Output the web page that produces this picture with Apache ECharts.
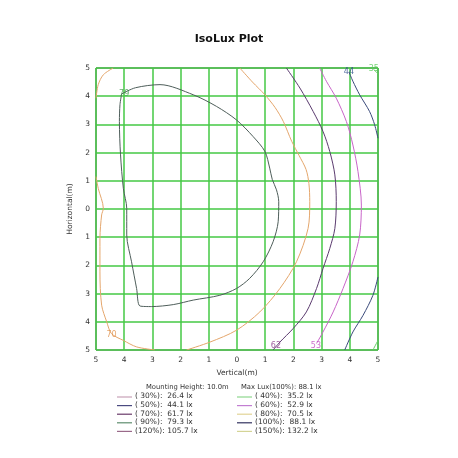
<!DOCTYPE html>
<html>
<head>
<meta charset="utf-8">
<script src="https://cdn.jsdelivr.net/npm/echarts@6/dist/echarts.min.js"></script>
<style>
  html, body { margin: 0; padding: 0; background: #fff; }
  #chart { width: 458px; height: 458px; }
</style>
</head>
<body>
<div id="chart"></div>
<script>
// tick values (labels shown as distance from centre)
const ticks = [-5, -4, -3, -2, -1, 0, 1, 2, 3, 4, 5];

// contour lines [vertical, horizontal]
const c79 = [[-4.09, 4.08], [-3.6, 4.3], [-2.73, 4.41], [-1.55, 4.05], [-0.73, 3.64], [-0.02, 3.16], [0.57, 2.57], [0.99, 2.04], [1.16, 1.45], [1.25, 1.05], [1.40, 0.68], [1.48, 0.26], [1.46, -0.45], [1.28, -1.16], [0.93, -1.87], [0.45, -2.46], [-0.02, -2.82], [-0.61, -3.06], [-1.55, -3.23], [-2.26, -3.39], [-3.03, -3.46], [-3.44, -3.44], [-3.56, -2.82], [-3.74, -1.87], [-3.91, -0.92], [-3.91, 0.02], [-4.03, 0.73], [-4.13, 1.92], [-4.17, 3.10], [-4.15, 3.70], [-4.09, 4.08]];
const c70a = [[-4.39, 5], [-4.74, 4.76], [-4.92, 4.41], [-5, 3.93]];
const c70b = [[-5, 1.15], [-4.92, 0.73], [-4.74, 0.02], [-4.80, -0.21], [-4.86, -1.04], [-4.86, -2.23], [-4.80, -3.41], [-4.62, -4.0], [-4.45, -4.42], [-4.03, -4.66], [-3.56, -4.89], [-2.91, -5]];
const c70c = [[-1.79, -5], [-0.96, -4.72], [-0.02, -4.30], [0.81, -3.65], [1.52, -2.82], [2.11, -1.87], [2.52, -0.69], [2.58, 0.26], [2.55, 0.9], [2.45, 1.4], [2.2, 1.9], [1.94, 2.4], [1.64, 3.11], [1.35, 3.6], [0.99, 4.05], [0.55, 4.5], [0.1, 5]];
const c62 = [[1.75, 5], [2.23, 4.29], [2.70, 3.46], [3.05, 2.75], [3.29, 2.04], [3.47, 1.21], [3.52, 0.26], [3.47, -0.69], [3.29, -1.40], [3.05, -2.11], [2.82, -2.82], [2.46, -3.65], [1.99, -4.24], [1.52, -4.72], [1.28, -5]];
const c53 = [[2.93, 5], [3.17, 4.53], [3.52, 3.93], [3.88, 3.10], [4.11, 2.27], [4.29, 1.33], [4.41, 0.14], [4.35, -0.92], [4.11, -1.87], [3.76, -2.82], [3.41, -3.65], [3.05, -4.36], [2.82, -4.77]];
const c44a = [[3.97, 4.86], [4.11, 4.53], [4.35, 4.05], [4.70, 3.46], [4.88, 2.99], [5, 2.51]];
const c44b = [[5, -2.41], [4.82, -3.06], [4.47, -3.77], [4.11, -4.36], [3.82, -5]];
const c35a = [[4.85, 4.95], [4.93, 4.86], [5, 4.8]];
const c35b = [[4.82, -5], [5, -4.66]];

// contour labels
const labelText = ['79', '70', '62', '53', '44', '35'];
const labelPos = [[-4.0, 4.09], [-4.45, -4.45], [1.38, -4.86], [2.8, -4.86], [3.97, 4.86], [4.85, 4.98]];
const labelColor = ['#3f9a4a', '#e0904a', '#8a3a8a', '#c04ac0', '#2a4a8a', '#55cc55'];

// legend
const mountHeight = '10.0m';
const maxLux = 88.1;
const legendPct = [30, 40, 50, 60, 70, 80, 90, 100, 120, 150];
const legendLux = [26.4, 35.2, 44.1, 52.9, 61.7, 70.5, 79.3, 88.1, 105.7, 132.2];
const legendColor = ['#c8a2b8', '#8ed88e', '#4a4a80', '#c27ed2', '#6a3a6a', '#e2d496', '#5e8e6e', '#33335f', '#9a6a8a', '#d4d496'];

const chart = echarts.init(document.getElementById('chart'));

function contour(data, color) {
  return {
    type: 'line', data: data, symbol: 'none', smooth: 0.3,
    lineStyle: { color: color, width: 1 }, silent: true, z: 3
  };
}

const series = [
  contour(c79, '#4e5e5a'),
  contour(c70a, '#e4a66c'), contour(c70b, '#e4a66c'), contour(c70c, '#e4a66c'),
  contour(c62, '#5a3a6e'),
  contour(c53, '#c864c8'),
  contour(c44a, '#3a4a7a'), contour(c44b, '#3a4a7a'),
  contour(c35a, '#66cc66'), contour(c35b, '#66cc66')
];
labelText.forEach((t, i) => {
  series.push({
    type: 'scatter', data: [labelPos[i]], symbolSize: 0, silent: true, z: 4,
    label: { show: true, position: 'inside', formatter: t, color: labelColor[i], fontSize: 8, fontFamily: 'DejaVu Sans' }
  });
});

// legend drawn as graphic elements
const graphic = [
  { type: 'text', left: 146, top: 384, style: { text: 'Mounting Height: ' + mountHeight, font: '6.8px DejaVu Sans', fill: '#333' } },
  { type: 'text', left: 241, top: 384, style: { text: 'Max Lux(100%): ' + maxLux.toFixed(1) + ' lx', font: '6.8px DejaVu Sans', fill: '#333' } }
];
legendPct.forEach((p, i) => {
  const col = i % 2, row = Math.floor(i / 2);
  const x0 = col === 0 ? 117 : 237;
  const y = 397 + row * 8.6;
  graphic.push({ type: 'line', shape: { x1: x0, y1: y, x2: x0 + 15, y2: y }, style: { stroke: legendColor[i], lineWidth: 1.2 } });
  const pct = String(p).padStart(3, ' ');
  const lux = legendLux[i].toFixed(1).padStart(5, ' ');
  graphic.push({ type: 'text', left: x0 + 18, top: y - 4.5, style: { text: '(' + pct + '%): ' + lux + ' lx', font: '7.5px DejaVu Sans', fill: '#333' } });
});

chart.setOption({
  animation: false,
  backgroundColor: '#fff',
  title: {
    text: 'IsoLux Plot', left: 'center', top: 29,
    textStyle: { fontSize: 11, fontWeight: 'bold', fontFamily: 'DejaVu Sans', color: '#111' }
  },
  grid: { left: 96, right: 80, top: 68, bottom: 108, show: true, borderColor: '#444', borderWidth: 1, backgroundColor: '#fff' },
  xAxis: {
    type: 'value', min: -5, max: 5, interval: 1,
    name: 'Vertical(m)', nameLocation: 'middle', nameGap: 15,
    nameTextStyle: { fontSize: 7.5, fontFamily: 'DejaVu Sans', color: '#333' },
    axisLine: { show: false }, axisTick: { show: false },
    axisLabel: { formatter: v => String(Math.abs(v)), fontSize: 7.5, color: '#333', margin: 6, fontFamily: 'DejaVu Sans' },
    splitLine: { show: true, lineStyle: { color: '#44c844', width: 1.5 } }
  },
  yAxis: {
    type: 'value', min: -5, max: 5, interval: 1,
    name: 'Horizontal(m)', nameLocation: 'middle', nameGap: 17,
    nameTextStyle: { fontSize: 7.5, fontFamily: 'DejaVu Sans', color: '#333' },
    axisLine: { show: false }, axisTick: { show: false },
    axisLabel: { formatter: v => String(Math.abs(v)), fontSize: 7.5, color: '#333', margin: 6, fontFamily: 'DejaVu Sans' },
    splitLine: { show: true, lineStyle: { color: '#44c844', width: 1.5 } }
  },
  series: series,
  graphic: graphic
});
</script>
</body>
</html>
